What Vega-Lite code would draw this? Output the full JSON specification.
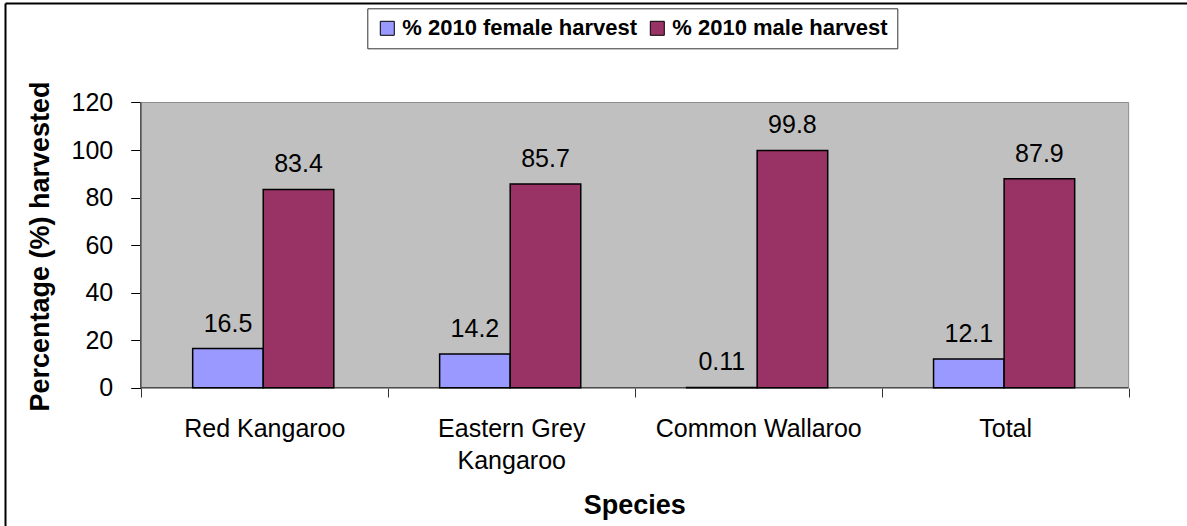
{
  "$schema": "https://vega.github.io/schema/vega-lite/v6.json",
  "width": 1187,
  "height": 526,
  "autosize": {"type": "fit", "contains": "padding"},
  "padding": {"left": 5, "top": 3, "right": 0, "bottom": 0},
  "background": "white",
  "config": {
    "font": "Liberation Sans, Arial, sans-serif",
    "view": {"stroke": null, "fill": "white"},
    "axis": {"labelColor": "#000000", "titleColor": "#000000", "tickColor": "#000000", "grid": false}
  },
  "data": {
    "values": [
      {"species": "Red Kangaroo", "series": "% 2010 female harvest", "value": 16.5},
      {"species": "Red Kangaroo", "series": "% 2010 male harvest", "value": 83.4},
      {"species": "Eastern Grey Kangaroo", "series": "% 2010 female harvest", "value": 14.2},
      {"species": "Eastern Grey Kangaroo", "series": "% 2010 male harvest", "value": 85.7},
      {"species": "Common Wallaroo", "series": "% 2010 female harvest", "value": 0.11},
      {"species": "Common Wallaroo", "series": "% 2010 male harvest", "value": 99.8},
      {"species": "Total", "series": "% 2010 female harvest", "value": 12.1},
      {"species": "Total", "series": "% 2010 male harvest", "value": 87.9}
    ]
  },
  "resolve": {"axis": {"x": "independent", "y": "independent"}},
  "layer": [
    {
      "data": {"values": [{}]},
      "mark": {"type": "rect", "fill": "#C0C0C0", "stroke": "#8c8c8c", "strokeWidth": 1},
      "encoding": {
        "x": {
          "datum": "Red Kangaroo",
          "type": "nominal",
          "bandPosition": 0,
          "axis": {
            "orient": "top",
            "offset": 0,
            "domain": true,
            "domainColor": "#000000",
            "domainWidth": 2,
            "ticks": false,
            "labels": false,
            "title": null
          }
        },
        "x2": {"datum": "Total", "bandPosition": 1},
        "y": {
          "datum": 0,
          "type": "quantitative",
          "axis": {
            "orient": "left",
            "offset": 0,
            "domain": true,
            "domainColor": "#000000",
            "domainWidth": 2,
            "ticks": false,
            "labels": false,
            "grid": false,
            "title": null
          }
        },
        "y2": {"datum": 120}
      }
    },
    {
      "data": {"values": [{}]},
      "mark": {"type": "rule", "color": "#4d4d4d", "strokeWidth": 1.5},
      "encoding": {
        "x": {"datum": "Red Kangaroo", "type": "nominal", "bandPosition": 0, "axis": null},
        "x2": {"datum": "Total", "bandPosition": 1},
        "y": {"datum": 0, "type": "quantitative", "axis": null}
      }
    },
    {
      "data": {"values": [{}]},
      "mark": {"type": "rule", "color": "#4d4d4d", "strokeWidth": 1.5},
      "encoding": {
        "x": {"datum": "Red Kangaroo", "type": "nominal", "bandPosition": 0, "axis": null},
        "y": {"datum": 0, "type": "quantitative", "axis": null},
        "y2": {"datum": 120}
      }
    },
    {
      "mark": {"type": "bar", "stroke": "#000000", "strokeWidth": 1.5},
      "encoding": {
        "x": {
          "field": "species",
          "type": "nominal",
          "scale": {
            "domain": ["Red Kangaroo", "Eastern Grey Kangaroo", "Common Wallaroo", "Total"],
            "paddingInner": 0,
            "paddingOuter": 0.3931,
            "align": 0.6995
          },
          "axis": {
            "orient": "bottom",
            "offset": -138,
            "domain": false,
            "tickBand": "extent",
            "tickSize": 9,
            "tickColor": "#333333",
            "labelPadding": 19,
            "labelFontSize": 25,
            "labelAngle": 0,
            "labelAlign": "center",
            "labelBaseline": "top",
            "labelLineHeight": 32,
            "labelLimit": 0,
            "labelOverlap": false,
            "labelExpr": "datum.value == 'Eastern Grey Kangaroo' ? ['Eastern Grey', 'Kangaroo'] : datum.label",
            "title": "Species",
            "titleFontSize": 27,
            "titleFontWeight": "bold",
            "titleX": 629.2,
            "titleY": 125,
            "titleBaseline": "alphabetic",
            "titleAlign": "center"
          }
        },
        "xOffset": {
          "field": "series",
          "type": "nominal",
          "scale": {"paddingInner": 0, "paddingOuter": 0.75, "align": 0.49}
        },
        "y": {
          "field": "value",
          "type": "quantitative",
          "scale": {"domain": [-58.17, 161.85], "nice": false, "zero": false},
          "axis": {
            "orient": "left",
            "offset": -135.7,
            "domain": false,
            "values": [0, 20, 40, 60, 80, 100, 120],
            "tickSize": 10,
            "labelPadding": 18,
            "labelFontSize": 25,
            "title": "Percentage (%) harvested",
            "titleFontSize": 27,
            "titleFontWeight": "bold",
            "titleAngle": -90,
            "titleX": -99.8,
            "titleY": 243,
            "titleBaseline": "middle",
            "titleAlign": "center"
          }
        },
        "color": {
          "field": "series",
          "type": "nominal",
          "scale": {"range": ["#9999FF", "#993366"]},
          "legend": {
            "orient": "none",
            "legendX": 362.3,
            "legendY": 5.3,
            "direction": "horizontal",
            "title": null,
            "strokeColor": "#333333",
            "fillColor": "white",
            "padding": 9,
            "labelFontSize": 22,
            "labelFontWeight": "bold",
            "labelColor": "#000000",
            "labelLimit": 0,
            "symbolType": "square",
            "symbolSize": 196,
            "symbolStrokeColor": "#000000",
            "symbolStrokeWidth": 1,
            "symbolOpacity": 1,
            "labelOffset": 4,
            "columnPadding": 9
          }
        }
      }
    },
    {
      "mark": {"type": "text", "dy": -25, "fontSize": 25, "baseline": "middle", "align": "center", "color": "#000000"},
      "encoding": {
        "x": {"field": "species", "type": "nominal", "axis": null},
        "xOffset": {"field": "series", "type": "nominal"},
        "y": {"field": "value", "type": "quantitative", "axis": null},
        "text": {"field": "value", "type": "quantitative", "format": ".3~g"}
      }
    }
  ]
}
